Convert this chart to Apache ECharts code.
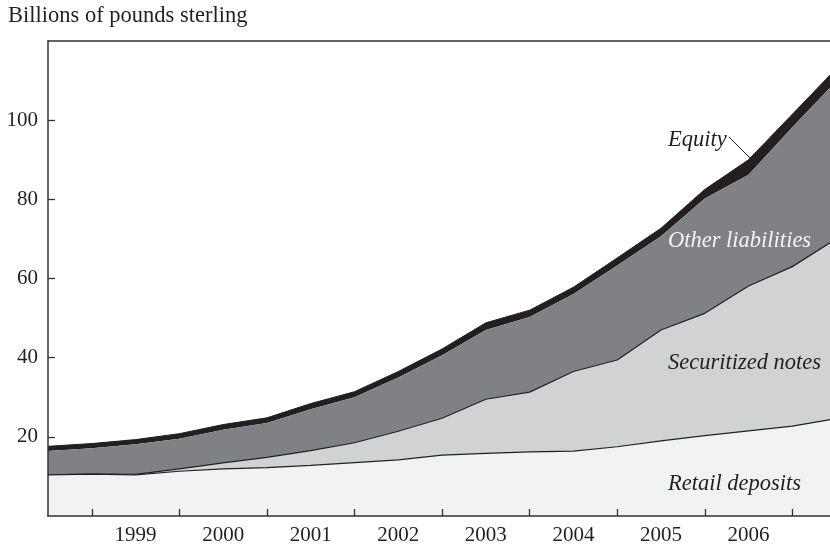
<!DOCTYPE html>
<html>
<head>
<meta charset="utf-8">
<script src="https://cdn.jsdelivr.net/npm/echarts@6/dist/echarts.min.js"></script>
<style>
html,body{margin:0;padding:0;background:#fff;}
#chart{width:830px;height:547px;}
</style>
</head>
<body>
<div id="chart"></div>
<script>
// Half-year observation points (year fractions)
var periods = [1998.5, 1999.0, 1999.5, 2000.0, 2000.5, 2001.0, 2001.5, 2002.0, 2002.5, 2003.0,
               2003.5, 2004.0, 2004.5, 2005.0, 2005.5, 2006.0, 2006.5, 2007.0, 2007.5];
// Billions of pounds sterling
var retailDeposits   = [10.4, 10.6, 10.4, 11.3, 11.9, 12.2, 12.8, 13.5, 14.2, 15.4, 15.8, 16.2, 16.4, 17.5, 19.0, 20.3, 21.5, 22.7, 24.6];
var securitizedNotes = [0.0, 0.0, 0.1, 0.6, 1.5, 2.6, 3.7, 5.0, 7.2, 9.3, 13.7, 15.1, 20.1, 21.9, 28.0, 30.9, 36.6, 40.3, 45.4];
var otherLiabilities = [6.0, 6.5, 7.6, 7.6, 8.4, 8.7, 10.5, 11.5, 13.6, 15.9, 17.5, 19.0, 19.6, 23.9, 23.7, 29.0, 28.1, 35.2, 39.8];
var equity           = [1.2, 1.2, 1.2, 1.3, 1.3, 1.3, 1.4, 1.4, 1.5, 1.6, 1.8, 1.7, 1.7, 1.9, 2.0, 2.3, 3.8, 3.3, 3.2];
// Axis ticks and labels
var yearTicks  = [1999, 2000, 2001, 2002, 2003, 2004, 2005, 2006, 2007];
var yearLabels = [1999, 2000, 2001, 2002, 2003, 2004, 2005, 2006];
var valueTicks = [20, 40, 60, 80, 100];

var FONT = 'Liberation Serif, Times New Roman, serif';
var INK = '#231f20';

// value first so the stack is applied to the value dimension; x read from dim 1
function pairs(vals) {
  return vals.map(function (v, i) { return [v, periods[i]]; });
}

var chart = echarts.init(document.getElementById('chart'), null, {renderer: 'canvas'});

var option = {
  backgroundColor: '#ffffff',
  animation: false,
  grid: {left: 48, right: 0, top: 41, bottom: 31, containLabel: false},
  xAxis: [{
    type: 'value',
    min: 1998.5,
    max: 2007.43,
    z: 10,
    axisLine: {show: true, lineStyle: {color: '#333', width: 1.5}},
    axisTick: {show: true, inside: true, length: 7, customValues: yearTicks, lineStyle: {color: '#333', width: 1.3}},
    axisLabel: {
      show: true, margin: 9, fontFamily: FONT, fontSize: 21, color: INK,
      customValues: yearLabels.map(function (y) { return y + 0.5; }),
      formatter: function (v) { return String(Math.floor(v)); }
    },
    splitLine: {show: false}
  }, {
    type: 'value',
    position: 'top',
    min: 1998.5,
    max: 2007.43,
    z: 10,
    axisLine: {show: true, onZero: false, lineStyle: {color: '#333', width: 1.5}},
    axisTick: {show: false},
    axisLabel: {show: false},
    splitLine: {show: false}
  }],
  yAxis: {
    type: 'value',
    min: 0,
    max: 120,
    z: 10,
    axisLine: {show: true, lineStyle: {color: '#333', width: 1.5}},
    axisTick: {show: true, inside: true, length: 7, customValues: valueTicks, lineStyle: {color: '#333', width: 1.3}},
    axisLabel: {show: true, margin: 10, fontFamily: FONT, fontSize: 21, color: INK, customValues: valueTicks},
    splitLine: {show: false}
  },
  series: [{
    name: 'Retail deposits', type: 'line', stack: 'total', symbol: 'none', smooth: false,
    encode: {x: 1, y: 0},
    data: pairs(retailDeposits),
    lineStyle: {color: INK, width: 1.2},
    areaStyle: {color: '#f1f2f4', opacity: 1},
    z: 5
  }, {
    name: 'Securitized notes', type: 'line', stack: 'total', symbol: 'none', smooth: false,
    encode: {x: 1, y: 0},
    data: pairs(securitizedNotes),
    lineStyle: {color: INK, width: 1.2},
    areaStyle: {color: '#d1d2d4', opacity: 1},
    z: 4
  }, {
    name: 'Other liabilities', type: 'line', stack: 'total', symbol: 'none', smooth: false,
    encode: {x: 1, y: 0},
    data: pairs(otherLiabilities),
    lineStyle: {color: '#808184', width: 0},
    areaStyle: {color: '#808184', opacity: 1},
    z: 3
  }, {
    name: 'Equity', type: 'line', stack: 'total', symbol: 'none', smooth: false,
    encode: {x: 1, y: 0},
    data: pairs(equity),
    lineStyle: {color: INK, width: 1},
    areaStyle: {color: INK, opacity: 1},
    z: 2
  }],
  graphic: [{
    type: 'text', x: 8, y: 16,
    style: {text: 'Billions of pounds sterling', font: '22.5px ' + FONT, fill: INK, verticalAlign: 'middle', align: 'left'}
  }, {
    type: 'text', x: 668, y: 140,
    style: {text: 'Equity', font: 'italic 22.5px ' + FONT, fill: INK, verticalAlign: 'middle', align: 'left'},
    z: 10
  }, {
    type: 'line',
    shape: {x1: 729, y1: 137, x2: 752, y2: 160},
    style: {stroke: INK, lineWidth: 1},
    z: 10
  }, {
    type: 'text', x: 668, y: 241,
    style: {text: 'Other liabilities', font: 'italic 22.5px ' + FONT, fill: '#f4f4f4', verticalAlign: 'middle', align: 'left'},
    z: 10
  }, {
    type: 'text', x: 668, y: 363,
    style: {text: 'Securitized notes', font: 'italic 22.5px ' + FONT, fill: INK, verticalAlign: 'middle', align: 'left'},
    z: 10
  }, {
    type: 'text', x: 668, y: 484,
    style: {text: 'Retail deposits', font: 'italic 22.5px ' + FONT, fill: INK, verticalAlign: 'middle', align: 'left'},
    z: 10
  }]
};
chart.setOption(option);
</script>
</body>
</html>
